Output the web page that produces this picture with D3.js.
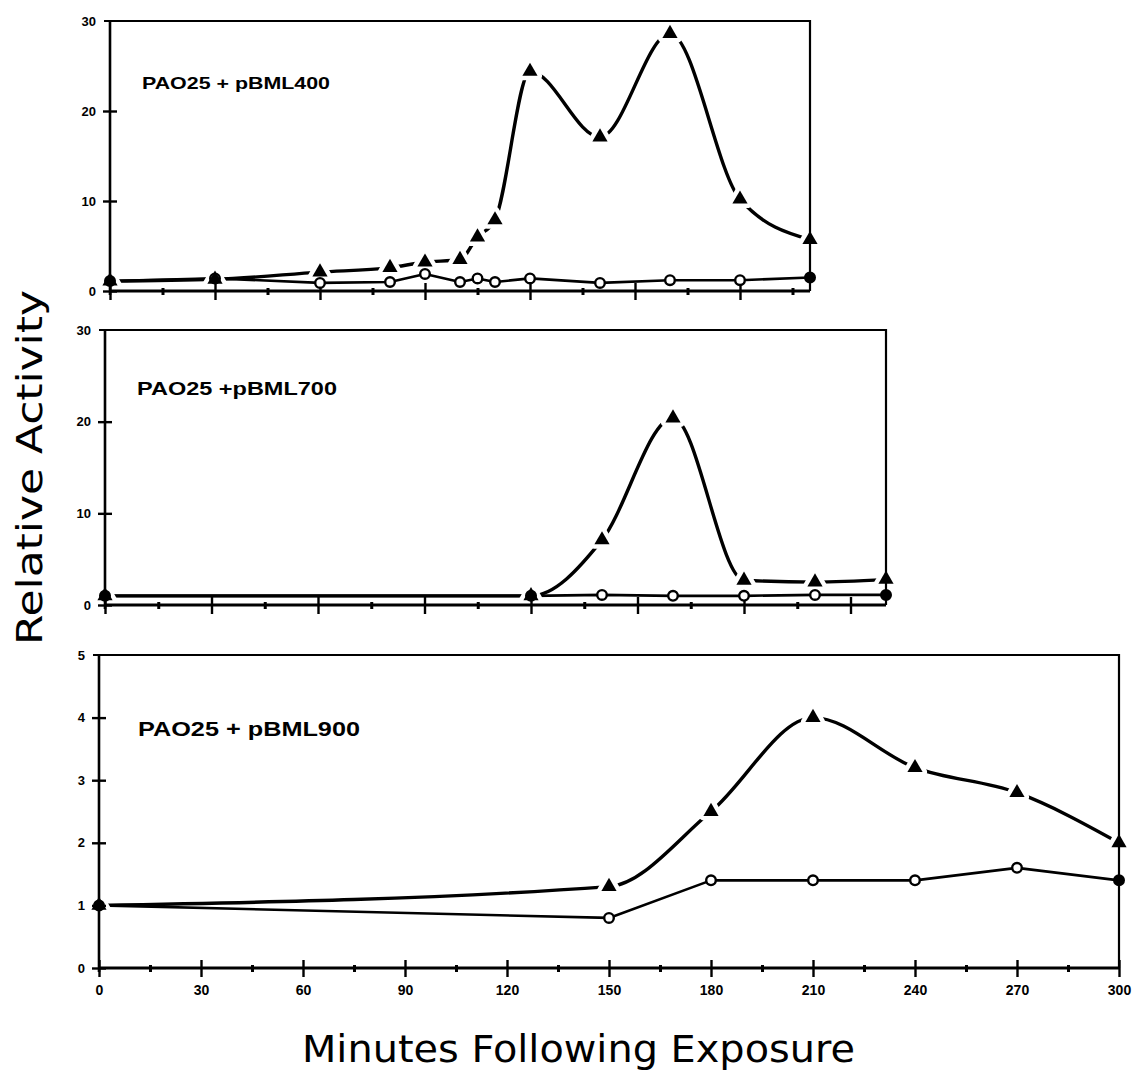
<!DOCTYPE html>
<html>
<head>
<meta charset="utf-8">
<script src="https://cdn.jsdelivr.net/npm/d3@7"></script>
<style>
  body { margin: 0; background: #fff; }
  svg { display: block; }
</style>
</head>
<body>
<svg id="chart" width="1139" height="1078"></svg>
<script>
// ---- Data: relative activity vs. minutes following exposure ----
const strainTitles = ["PAO25 + pBML400", "PAO25 +pBML700", "PAO25 + pBML900"];

const minutes400  = [0, 30, 60, 80, 90, 100, 105, 110, 120, 140, 160, 180, 200];
const triangle400 = [1.1, 1.3, 2.1, 2.6, 3.2, 3.5, 6.0, 7.9, 24.4, 17.1, 28.6, 10.2, 5.7];
const circle400   = [1.1, 1.4, 0.9, 1.0, 1.9, 1.0, 1.4, 1.0, 1.4, 0.9, 1.2, 1.2, 1.5];

const minutes700  = [0, 120, 140, 160, 180, 200, 220];
const triangle700 = [1.0, 1.0, 7.1, 20.4, 2.7, 2.5, 2.8];
const circle700   = [1.0, 1.0, 1.1, 1.0, 1.0, 1.1, 1.1];

const minutes900  = [0, 150, 180, 210, 240, 270, 300];
const triangle900 = [1.0, 1.3, 2.5, 4.0, 3.2, 2.8, 2.0];
const circle900   = [1.0, 0.8, 1.4, 1.4, 1.4, 1.6, 1.4];

const yTicksWide   = [0, 10, 20, 30];
const yTicksNarrow = [0, 1, 2, 3, 4, 5];
const xTickLabels  = [0, 30, 60, 90, 120, 150, 180, 210, 240, 270, 300];

const xAxisTitle = "Minutes Following Exposure";
const yAxisTitle = "Relative Activity";

// ---- Layout of the three stacked panels ----
const panels = [
  { title: strainTitles[0], minutes: minutes400, tri: triangle400, circ: circle400,
    xMax: 200, yMax: 30, yTicks: yTicksWide,
    left: 110, right: 810, top: 21, bottom: 291,
    titleX: 142, titleY: 89, titleSize: 17, titleLen: 188, showLabels: false },
  { title: strainTitles[1], minutes: minutes700, tri: triangle700, circ: circle700,
    xMax: 220, yMax: 30, yTicks: yTicksWide,
    left: 105, right: 886, top: 330, bottom: 605,
    titleX: 137, titleY: 395, titleSize: 19, titleLen: 200, showLabels: false },
  { title: strainTitles[2], minutes: minutes900, tri: triangle900, circ: circle900,
    xMax: 300, yMax: 5, yTicks: yTicksNarrow,
    left: 99, right: 1119, top: 655, bottom: 968,
    titleX: 138, titleY: 736, titleSize: 20, titleLen: 222, showLabels: true }
];

const svg = d3.select("#chart");
const INK = "#000";
const tickFont = "'Liberation Sans', Arial, sans-serif";

const triSymbol = d3.symbol().type(d3.symbolTriangle).size(100);

panels.forEach(p => {
  const x = d3.scaleLinear().domain([0, p.xMax]).range([p.left, p.right]);
  const y = d3.scaleLinear().domain([0, p.yMax]).range([p.bottom, p.top]);
  const g = svg.append("g");

  const triPts = p.minutes.map((m, i) => [m, p.tri[i]]);
  const circPts = p.minutes.map((m, i) => [m, p.circ[i]]);

  // series lines: smoothed for the triangle series, straight for the circles
  const smooth = d3.line().x(d => x(d[0])).y(d => y(d[1])).curve(d3.curveMonotoneX);
  const straight = d3.line().x(d => x(d[0])).y(d => y(d[1]));

  g.append("path").attr("d", straight(circPts))
    .attr("fill", "none").attr("stroke", INK).attr("stroke-width", 2.6)
    .attr("stroke-linejoin", "round");
  g.append("path").attr("d", smooth(triPts))
    .attr("fill", "none").attr("stroke", INK).attr("stroke-width", 3.4)
    .attr("stroke-linejoin", "round").attr("stroke-linecap", "round");

  // white halo that opens a small gap in the line around each triangle
  g.selectAll("path.halo").data(triPts).join("path")
    .attr("class", "halo")
    .attr("d", triSymbol)
    .attr("transform", d => `translate(${x(d[0])},${y(d[1])})`)
    .attr("fill", "#fff").attr("stroke", "#fff").attr("stroke-width", 9)
    .attr("stroke-linejoin", "round");

  // frame (top and right edges)
  g.append("path")
    .attr("d", `M${p.left - 6},${p.top}H${p.right}V${p.bottom}`)
    .attr("fill", "none").attr("stroke", INK).attr("stroke-width", 2.2);

  // y axis
  const yAxis = d3.axisLeft(y).tickValues(p.yTicks).tickSize(7).tickPadding(8)
    .tickFormat(d3.format("d"));
  const yg = g.append("g").attr("transform", `translate(${p.left},0)`).call(yAxis);
  yg.select(".domain").attr("d", `M0,${p.top}V${p.bottom + 4}`)
    .attr("stroke", INK).attr("stroke-width", 2.6);
  yg.selectAll(".tick line").attr("x1", 7).attr("x2", -7)
    .attr("stroke", INK).attr("stroke-width", 2.4);
  yg.selectAll(".tick text")
    .attr("font-family", tickFont).attr("font-weight", "bold")
    .attr("font-size", 13).attr("fill", INK).attr("x", -14);
  yg.selectAll(".tick").filter(d => d === p.yMax).select("line").remove();

  // x axis: ticks every 15 minutes, longer ticks every 30
  const xTicks = d3.range(0, p.xMax + 1, 15);
  const xAxis = d3.axisBottom(x).tickValues(xTicks).tickSize(0).tickPadding(17)
    .tickFormat(d => (p.showLabels && xTickLabels.includes(d)) ? d : "");
  const xg = g.append("g").attr("transform", `translate(0,${p.bottom})`).call(xAxis);
  xg.select(".domain").attr("d", `M${p.left},0H${p.right}`)
    .attr("stroke", INK).attr("stroke-width", 2.8);
  xg.selectAll(".tick line")
    .attr("y1", d => d % 30 === 0 ? -8 : -3)
    .attr("y2", d => d % 30 === 0 ? 9 : 4)
    .attr("stroke", INK).attr("stroke-width", d => d % 30 === 0 ? 2.4 : 3);
  xg.selectAll(".tick text")
    .attr("font-family", tickFont).attr("font-weight", "bold")
    .attr("font-size", 14).attr("fill", INK);

  // markers: circles first, triangles on top
  g.selectAll("circle.pt").data(circPts).join("circle")
    .attr("class", "pt")
    .attr("cx", d => x(d[0])).attr("cy", d => y(d[1])).attr("r", 4.8)
    .attr("fill", d => (d[0] === 0 || d[0] === p.xMax) ? INK : "#fff")
    .attr("stroke", INK).attr("stroke-width", 2.4);

  g.selectAll("path.tri").data(triPts).join("path")
    .attr("class", "tri")
    .attr("d", triSymbol)
    .attr("transform", d => `translate(${x(d[0])},${y(d[1])})`)
    .attr("fill", INK);

  // strain label
  g.append("text")
    .attr("x", p.titleX).attr("y", p.titleY)
    .attr("font-family", tickFont).attr("font-weight", "bold")
    .attr("font-size", p.titleSize)
    .attr("textLength", p.titleLen).attr("lengthAdjust", "spacingAndGlyphs")
    .attr("fill", INK)
    .text(p.title);
});

// shared axis titles
svg.append("text")
  .attr("x", 302).attr("y", 1062)
  .attr("font-family", "'DejaVu Sans', Verdana, sans-serif")
  .attr("font-size", 37)
  .attr("textLength", 553).attr("lengthAdjust", "spacingAndGlyphs")
  .attr("fill", INK)
  .text(xAxisTitle);

svg.append("text")
  .attr("transform", "translate(42,645) rotate(-90)")
  .attr("font-family", "'DejaVu Sans', Verdana, sans-serif")
  .attr("font-size", 36)
  .attr("textLength", 355).attr("lengthAdjust", "spacingAndGlyphs")
  .attr("fill", INK)
  .text(yAxisTitle);
</script>
</body>
</html>
